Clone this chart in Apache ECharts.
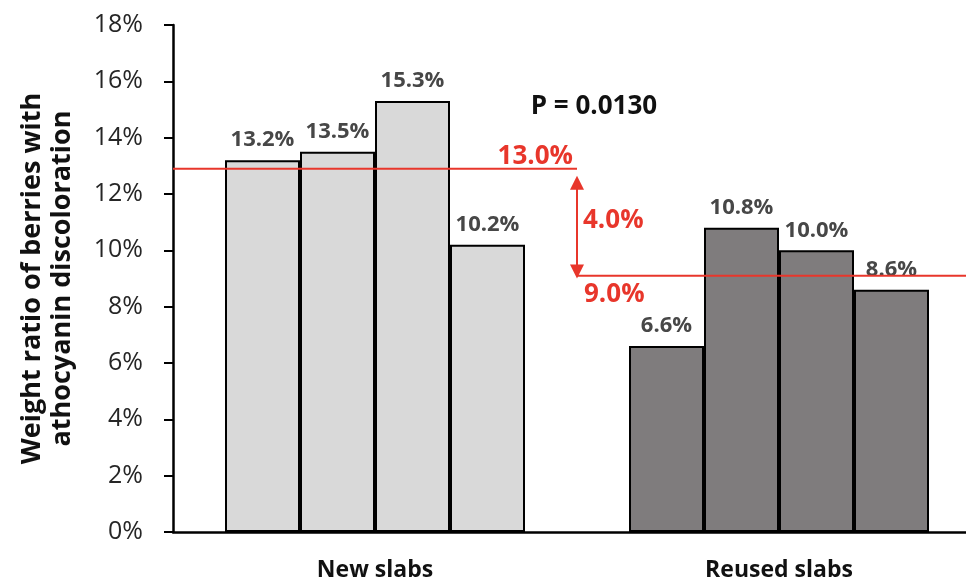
<!DOCTYPE html>
<html>
<head>
<meta charset="utf-8">
<script src="https://cdn.jsdelivr.net/npm/echarts@6/dist/echarts.min.js"></script>
<style>
html,body{margin:0;padding:0;background:#fff;}
#chart{width:966px;height:584px;}
</style>
</head>
<body>
<div id="chart"></div>
<script>
var categories = ['New slabs', 'Reused slabs'];
var newSlabs = [13.2, 13.5, 15.3, 10.2];
var reusedSlabs = [6.6, 10.8, 10.0, 8.6];
var barLabels = [['13.2%', '6.6%'], ['13.5%', '10.8%'], ['15.3%', '10.0%'], ['10.2%', '8.6%']];
var meanLevels = [12.9, 9.1];
var meanLabels = ['13.0%', '9.0%'];
var diffLabel = '4.0%';
var arrowSpan = [12.4, 9.25];
var pValueText = 'P = 0.0130';
var yTicks = [0, 2, 4, 6, 8, 10, 12, 14, 16, 18];

var lightFill = '#d9d9d9';
var darkFill = '#7f7c7d';
var red = '#e8362b';
var baseFont = "'Open Sans', 'DejaVu Sans', sans-serif";

var barSeries = newSlabs.map(function (v, i) {
  return {
    type: 'bar',
    barWidth: 75,
    barGap: '0%',
    xAxisIndex: 0,
    data: [
      { value: v, itemStyle: { color: lightFill } },
      { value: reusedSlabs[i], itemStyle: { color: darkFill } }
    ],
    itemStyle: { borderColor: '#000', borderWidth: 2 },
    label: {
      show: true,
      position: 'top',
      distance: 9,
      fontFamily: baseFont,
      fontWeight: 'bold',
      fontSize: 22,
      color: '#474747',
      formatter: function (p) { return barLabels[i][p.dataIndex]; }
    },
    silent: true,
    z: 2
  };
});

var option = {
  animation: false,
  backgroundColor: '#fff',
  grid: { left: 173, width: 808, top: 25, bottom: 52, containLabel: false, outerBoundsMode: 'none' },
  xAxis: [
    {
      type: 'category',
      data: categories,
      axisLine: { show: true, lineStyle: { color: '#000', width: 2.5 } },
      axisTick: { show: false },
      axisLabel: {
        margin: 27,
        fontFamily: baseFont,
        fontWeight: 'bold',
        fontSize: 23,
        color: '#111'
      },
      splitLine: { show: false }
    },
    {
      type: 'value',
      min: 0,
      max: 1,
      show: false
    }
  ],
  yAxis: {
    type: 'value',
    min: 0,
    max: 18,
    interval: 2,
    name: 'Weight ratio of berries with\nathocyanin discoloration',
    nameLocation: 'middle',
    nameGap: 96,
    nameTextStyle: {
      fontFamily: baseFont,
      fontWeight: 'bold',
      fontSize: 27,
      lineHeight: 30,
      color: '#111'
    },
    axisLine: { show: true, lineStyle: { color: '#000', width: 2.5 } },
    axisTick: { show: true, inside: false, length: 9, lineStyle: { color: '#000', width: 2 } },
    axisLabel: {
      margin: 30,
      fontFamily: baseFont,
      fontSize: 25,
      color: '#262626',
      formatter: function (v) { return yTicks.indexOf(v) >= 0 ? v + '%' : ''; }
    },
    splitLine: { show: false }
  },
  series: barSeries.concat([
    {
      type: 'line',
      xAxisIndex: 1,
      data: [[0, meanLevels[0]], [0.5, meanLevels[0]]],
      symbol: 'none',
      lineStyle: { color: red, width: 2 },
      silent: true,
      z: 5
    },
    {
      type: 'line',
      xAxisIndex: 1,
      data: [[0.5, meanLevels[1]], [1, meanLevels[1]]],
      symbol: 'none',
      lineStyle: { color: red, width: 2 },
      silent: true,
      z: 5,
      markLine: {
        silent: true,
        symbol: ['triangle', 'triangle'],
        symbolSize: [14, 14],
        label: { show: false },
        lineStyle: { color: red, width: 2, type: 'solid' },
        data: [[{ coord: [0.5, arrowSpan[0]] }, { coord: [0.5, arrowSpan[1]] }]]
      }
    },
    {
      type: 'scatter',
      xAxisIndex: 1,
      symbolSize: 0,
      itemStyle: { opacity: 1 },
      silent: true,
      z: 6,
      data: [
        {
          value: [0.5, meanLevels[0]],
          label: { show: true, formatter: meanLabels[0], position: [0, 0], align: 'right', verticalAlign: 'middle', offset: [-4, -12], color: red, fontSize: 26, fontWeight: 'bold', fontFamily: baseFont }
        },
        {
          value: [0.5, (arrowSpan[0] + arrowSpan[1]) / 2],
          label: { show: true, formatter: diffLabel, position: [0, 0], align: 'left', verticalAlign: 'middle', offset: [6, -7], color: red, fontSize: 26, fontWeight: 'bold', fontFamily: baseFont }
        },
        {
          value: [0.5, meanLevels[1]],
          label: { show: true, formatter: meanLabels[1], position: [0, 0], align: 'left', verticalAlign: 'middle', offset: [7, 19], color: red, fontSize: 26, fontWeight: 'bold', fontFamily: baseFont }
        },
        {
          value: [0.521, 15.1],
          label: { show: true, formatter: pValueText, position: [0, 0], align: 'center', verticalAlign: 'middle', color: '#111', fontSize: 26, fontWeight: 'bold', fontFamily: baseFont }
        }
      ]
    }
  ])
};

var chart = echarts.init(document.getElementById('chart'), null, { renderer: 'canvas' });
chart.setOption(option);
</script>
</body>
</html>
